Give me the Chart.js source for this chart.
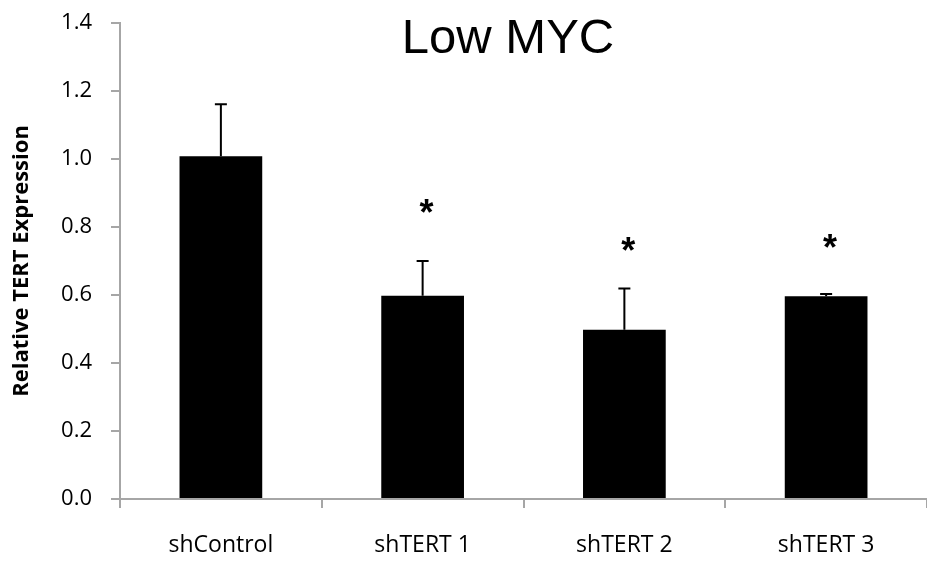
<!DOCTYPE html>
<html>
<head>
<meta charset="utf-8">
<script src="https://cdn.jsdelivr.net/npm/chart.js@4"></script>
<style>
  html, body { margin: 0; padding: 0; background: #fff; }
  #wrap { width: 927px; height: 563px; }
</style>
</head>
<body>
<div id="wrap"><canvas id="chart" width="927" height="563"></canvas></div>
<script>
const categories = ["shControl", "shTERT 1", "shTERT 2", "shTERT 3"]
const expression = [1.008, 0.598, 0.498, 0.596]
const errorUp = [0.153, 0.102, 0.121, 0.007]
const starLabels = ["", "*", "*", "*"]
const starLevel = [null, 0.864, 0.754, 0.761]
const yTicks = [0, 0.2, 0.4, 0.6, 0.8, 1.0, 1.2, 1.4]

const axisGrey = "#a6a6a6"
const labelFont = "'Open Sans', 'Liberation Sans', sans-serif"

// error bars (upper only) + significance stars + title
const extras = {
    id: "extras",
    afterDatasetsDraw(chart){
        const ctx = chart.ctx
        const meta = chart.getDatasetMeta(0)
        const y = chart.scales.y
        ctx.save()
        ctx.strokeStyle = "#000"
        ctx.lineWidth = 2
        meta.data.forEach((bar, i) => {
            const top = y.getPixelForValue(expression[i] + errorUp[i])
            ctx.beginPath()
            ctx.moveTo(bar.x, bar.y)
            ctx.lineTo(bar.x, top)
            ctx.moveTo(bar.x - 6, top)
            ctx.lineTo(bar.x + 6, top)
            ctx.stroke()

            if(starLabels[i]){
                ctx.fillStyle = "#000"
                ctx.font = "bold 36px 'Liberation Sans', sans-serif"
                ctx.textAlign = "center"
                ctx.textBaseline = "alphabetic"
                ctx.fillText(starLabels[i], bar.x + 4, y.getPixelForValue(starLevel[i]) + 20)
            }
        })
        ctx.restore()
    },
    afterDraw(chart){
        const ctx = chart.ctx
        ctx.save()
        ctx.fillStyle = "#000"
        ctx.font = "49px 'Liberation Sans', sans-serif"
        ctx.textAlign = "center"
        ctx.textBaseline = "alphabetic"
        ctx.fillText("Low MYC", 508, 53)
        ctx.restore()
    }
}

new Chart(document.getElementById("chart"), {
    type: "bar",
    data: {
        labels: categories,
        datasets: [{
            label: "Relative TERT Expression",
            data: expression,
            backgroundColor: "#000",
            borderColor: "#000",
            borderWidth: 0,
            barPercentage: 0.82,
            categoryPercentage: 0.5
        }]
    },
    options: {
        responsive: false,
        animation: false,
        layout: { padding: { top: 23, right: -5, left: 0, bottom: 0 } },
        plugins: {
            legend: { display: false },
            tooltip: { enabled: false }
        },
        scales: {
            x: {
                grid: {
                    offset: true,
                    drawOnChartArea: false,
                    drawTicks: true,
                    tickLength: 9,
                    color: axisGrey,
                    lineWidth: 2
                },
                border: { color: axisGrey, width: 2 },
                ticks: {
                    color: "#000",
                    padding: 24,
                    font: { family: labelFont, size: 23 }
                },
                afterFit(scale){
                    scale.height = 64
                    scale.paddingLeft = 0
                    scale.paddingRight = 0
                }
            },
            y: {
                min: 0,
                max: 1.4,
                afterBuildTicks(scale){
                    scale.ticks = yTicks.map(v => ({ value: v }))
                },
                grid: {
                    drawOnChartArea: false,
                    drawTicks: true,
                    tickLength: 9,
                    color: axisGrey,
                    lineWidth: 2
                },
                border: { color: axisGrey, width: 2 },
                ticks: {
                    color: "#000",
                    padding: 19,
                    font: { family: labelFont, size: 22 },
                    callback: v => Number(v).toFixed(1)
                },
                title: {
                    display: true,
                    text: "Relative TERT Expression",
                    color: "#000",
                    font: { family: labelFont, size: 22, weight: "bold" },
                    padding: { top: 9, bottom: 0 }
                },
                afterFit(scale){
                    scale.width = 120
                    scale.paddingTop = 0
                    scale.paddingBottom = 0
                }
            }
        }
    },
    plugins: [extras]
})
</script>
</body>
</html>
